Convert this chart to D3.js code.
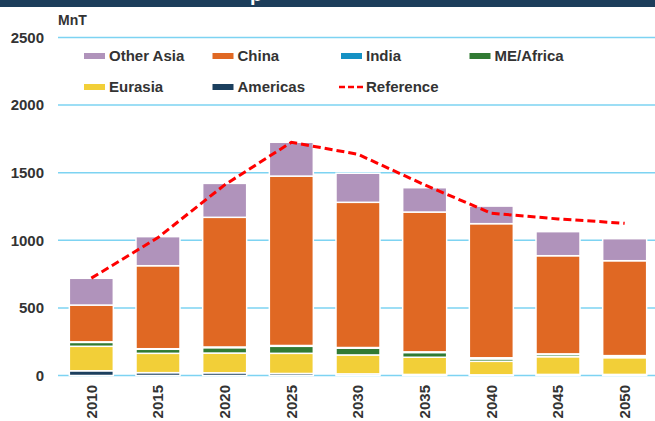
<!DOCTYPE html>
<html lang="en">
<head>
    <title>Stacked bars by region</title>
    <script src='https://d3js.org/d3.v7.min.js'></script>
    <style>
        body { margin: 0; background: #fff; }
        text { font-family: "Liberation Sans", Arial, sans-serif; font-weight: bold; fill: #333; }
    </style>
</head>
<body>
    <script>
        // data (MnT)
        var years     = ["2010", "2015", "2020", "2025", "2030", "2035", "2040", "2045", "2050"];
        var americas  = [35, 21, 20, 15, 12, 8, 5, 8, 8];
        var eurasia   = [181, 143, 146, 149, 140, 127, 100, 131, 124];
        var meAfrica  = [29, 30, 40, 52, 50, 35, 18, 16, 10];
        var india     = [4, 4, 5, 6, 5, 5, 8, 5, 5];
        var china     = [272, 614, 959, 1253, 1074, 1034, 992, 726, 702];
        var otherAsia = [198, 215, 251, 250, 215, 180, 130, 178, 163];
        var reference = [720, 1020, 1410, 1725, 1636, 1410, 1200, 1158, 1126];
        var yTicks    = [0, 500, 1000, 1500, 2000, 2500];

        var width = 655,
            height = 421;

        // series in stacking order, bottom first
        var series = [
            { name: "Americas",   values: americas,  color: "#1b3f5e" },
            { name: "Eurasia",    values: eurasia,   color: "#f2cf38" },
            { name: "ME/Africa",  values: meAfrica,  color: "#317a33" },
            { name: "India",      values: india,     color: "#1591c4" },
            { name: "China",      values: china,     color: "#e06823" },
            { name: "Other Asia", values: otherAsia, color: "#b093bb" }
        ];

        var rows = years.map(function (y, i) {
            var r = { year: y };
            series.forEach(function (s) { r[s.name] = s.values[i]; });
            return r;
        });

        var svg = d3.select("body").append("svg")
            .attr("width", width)
            .attr("height", height);

        // dark title strip at the very top (title itself is cut off)
        svg.append("rect")
            .attr("x", 0).attr("y", 0)
            .attr("width", width).attr("height", 7)
            .attr("fill", "#1d3e5b");
        svg.append("text")
            .attr("x", 250).attr("y", 1)
            .style("font-size", "20px")
            .style("fill", "#fff")
            .text("p");

        var x = d3.scaleBand()
            .domain(years)
            .range([58, 658])
            .paddingInner(0.34)
            .paddingOuter(0.17);

        var y = d3.scaleLinear()
            .domain([0, 2500])
            .range([375.5, 37.5]);

        // gridlines
        svg.append("g").selectAll("line")
            .data(yTicks)
            .enter().append("line")
            .attr("x1", 58).attr("x2", width)
            .attr("y1", function (d) { return y(d); })
            .attr("y2", function (d) { return y(d); })
            .attr("stroke", "#7dd3f2")
            .attr("stroke-width", 1.5);

        // y tick labels
        svg.append("g").selectAll("text")
            .data(yTicks)
            .enter().append("text")
            .attr("x", 44)
            .attr("y", function (d) { return y(d); })
            .attr("dy", "0.35em")
            .attr("text-anchor", "end")
            .style("font-size", "15px")
            .text(function (d) { return d; });

        svg.append("text")
            .attr("x", 58).attr("y", 25)
            .style("font-size", "14px")
            .text("MnT");

        // stacked bars
        var stack = d3.stack().keys(series.map(function (s) { return s.name; }));
        var layers = stack(rows);

        svg.append("g").selectAll("g")
            .data(layers)
            .enter().append("g")
            .attr("fill", function (d, i) { return series[i].color; })
            .selectAll("rect")
            .data(function (d) { return d; })
            .enter().append("rect")
            .attr("x", function (d) { return x(d.data.year); })
            .attr("y", function (d) { return y(d[1]); })
            .attr("width", x.bandwidth())
            .attr("height", function (d) { return Math.max(0, y(d[0]) - y(d[1])); })
            .attr("stroke", "#fff")
            .attr("stroke-width", 1.5);

        // reference line
        var line = d3.line()
            .x(function (d, i) { return x(years[i]) + x.bandwidth() / 2; })
            .y(function (d) { return y(d); });

        svg.append("path")
            .datum(reference)
            .attr("d", line)
            .attr("fill", "none")
            .attr("stroke", "#ff0000")
            .attr("stroke-width", 3)
            .attr("stroke-dasharray", "8,4");

        // x labels, rotated
        svg.append("g").selectAll("text")
            .data(years)
            .enter().append("text")
            .attr("transform", function (d) {
                return "translate(" + (x(d) + x.bandwidth() / 2) + ",385) rotate(-90)";
            })
            .attr("dy", "0.35em")
            .attr("text-anchor", "end")
            .style("font-size", "15px")
            .text(function (d) { return d; });

        // legend
        var legendItems = [
            { name: "Other Asia", color: "#b093bb", col: 0, row: 0 },
            { name: "China",      color: "#e06823", col: 1, row: 0 },
            { name: "India",      color: "#1591c4", col: 2, row: 0 },
            { name: "ME/Africa",  color: "#317a33", col: 3, row: 0 },
            { name: "Eurasia",    color: "#f2cf38", col: 0, row: 1 },
            { name: "Americas",   color: "#1b3f5e", col: 1, row: 1 },
            { name: "Reference",  color: "#ff0000", col: 2, row: 1, dash: true }
        ];
        var legend = svg.append("g").selectAll("g")
            .data(legendItems)
            .enter().append("g")
            .attr("transform", function (d) {
                return "translate(" + (84 + d.col * 128.5) + "," + (56 + d.row * 31) + ")";
            });

        legend.filter(function (d) { return !d.dash; })
            .append("rect")
            .attr("x", 0).attr("y", -3)
            .attr("width", 21).attr("height", 6)
            .attr("fill", function (d) { return d.color; });

        legend.filter(function (d) { return d.dash; })
            .append("line")
            .attr("x1", -2).attr("x2", 23)
            .attr("y1", 0).attr("y2", 0)
            .attr("stroke", "#ff0000")
            .attr("stroke-width", 2.5)
            .attr("stroke-dasharray", "6,3");

        legend.append("text")
            .attr("x", 25)
            .attr("dy", "0.35em")
            .style("font-size", "15px")
            .text(function (d) { return d.name; });
    </script>
</body>
</html>
